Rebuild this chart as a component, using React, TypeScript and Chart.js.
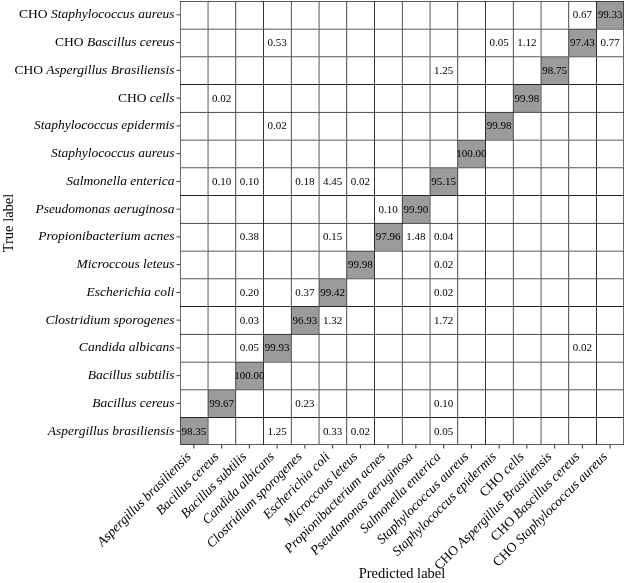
import React, { useEffect, useRef } from "react";
import { Chart, registerables } from "chart.js";

Chart.register(...registerables);

const classes = [
  "Aspergillus brasiliensis",
  "Bacillus cereus",
  "Bacillus subtilis",
  "Candida albicans",
  "Clostridium sporogenes",
  "Escherichia coli",
  "Microccous leteus",
  "Propionibacterium acnes",
  "Pseudomonas aeruginosa",
  "Salmonella enterica",
  "Staphylococcus aureus",
  "Staphylococcus epidermis",
  "CHO cells",
  "CHO Aspergillus Brasiliensis",
  "CHO Bascillus cereus",
  "CHO Staphylococcus aureus",
];

// rows = true label, columns = predicted label (percent)
const rowAspergillus = [98.35, 0, 0, 1.25, 0, 0.33, 0.02, 0, 0, 0.05, 0, 0, 0, 0, 0, 0];
const rowBacCereus = [0, 99.67, 0, 0, 0.23, 0, 0, 0, 0, 0.1, 0, 0, 0, 0, 0, 0];
const rowBacSubtilis = [0, 0, 100.0, 0, 0, 0, 0, 0, 0, 0, 0, 0, 0, 0, 0, 0];
const rowCandida = [0, 0, 0.05, 99.93, 0, 0, 0, 0, 0, 0, 0, 0, 0, 0, 0.02, 0];
const rowClostridium = [0, 0, 0.03, 0, 96.93, 1.32, 0, 0, 0, 1.72, 0, 0, 0, 0, 0, 0];
const rowEcoli = [0, 0, 0.2, 0, 0.37, 99.42, 0, 0, 0, 0.02, 0, 0, 0, 0, 0, 0];
const rowMicro = [0, 0, 0, 0, 0, 0, 99.98, 0, 0, 0.02, 0, 0, 0, 0, 0, 0];
const rowPropion = [0, 0, 0.38, 0, 0, 0.15, 0, 97.96, 1.48, 0.04, 0, 0, 0, 0, 0, 0];
const rowPseudo = [0, 0, 0, 0, 0, 0, 0, 0.1, 99.9, 0, 0, 0, 0, 0, 0, 0];
const rowSalmonella = [0, 0.1, 0.1, 0, 0.18, 4.45, 0.02, 0, 0, 95.15, 0, 0, 0, 0, 0, 0];
const rowStaphAureus = [0, 0, 0, 0, 0, 0, 0, 0, 0, 0, 100.0, 0, 0, 0, 0, 0];
const rowStaphEpi = [0, 0, 0, 0.02, 0, 0, 0, 0, 0, 0, 0, 99.98, 0, 0, 0, 0];
const rowChoCells = [0, 0.02, 0, 0, 0, 0, 0, 0, 0, 0, 0, 0, 99.98, 0, 0, 0];
const rowChoAsp = [0, 0, 0, 0, 0, 0, 0, 0, 0, 1.25, 0, 0, 0, 98.75, 0, 0];
const rowChoBac = [0, 0, 0, 0.53, 0, 0, 0, 0, 0, 0, 0, 0.05, 1.12, 0, 97.43, 0.77];
const rowChoStaph = [0, 0, 0, 0, 0, 0, 0, 0, 0, 0, 0, 0, 0, 0, 0.67, 99.33];

const confusion = [
  rowAspergillus,
  rowBacCereus,
  rowBacSubtilis,
  rowCandida,
  rowClostridium,
  rowEcoli,
  rowMicro,
  rowPropion,
  rowPseudo,
  rowSalmonella,
  rowStaphAureus,
  rowStaphEpi,
  rowChoCells,
  rowChoAsp,
  rowChoBac,
  rowChoStaph,
];

const SERIF = "'Liberation Serif', 'Times New Roman', serif";
const LABEL_SIZE = 13.5;
const VALUE_SIZE = 11;
const TITLE_SIZE = 14.5;

function splitLabel(s: string): [string, string] {
  if (s.startsWith("CHO ")) return ["CHO ", s.slice(4)];
  return ["", s];
}

function cellColor(v: number) {
  return v > 50 ? "#9b9b9b" : "#ffffff";
}

const labelPlugin = {
  id: "cmLabels",
  afterDraw(chart: any) {
    const ctx = chart.ctx as CanvasRenderingContext2D;
    const xs = chart.scales.x;
    const ys = chart.scales.y;
    const area = chart.chartArea;
    ctx.save();

    // cell values
    ctx.font = `${VALUE_SIZE}px ${SERIF}`;
    ctx.textAlign = "center";
    ctx.textBaseline = "middle";
    ctx.fillStyle = "#000";
    confusion.forEach((row, r) => {
      row.forEach((v, c) => {
        if (v > 0) {
          ctx.fillText(v.toFixed(2), xs.getPixelForValue(c), ys.getPixelForValue(r + 0.5) + 0.5);
        }
      });
    });

    const upFont = `${LABEL_SIZE}px ${SERIF}`;
    const itFont = `italic ${LABEL_SIZE}px ${SERIF}`;
    const tickLen = 3.5;
    const pad = 2;

    ctx.strokeStyle = "#000";
    ctx.lineWidth = 0.8;

    // y tick labels
    classes.forEach((name, i) => {
      const y = ys.getPixelForValue(i + 0.5);
      ctx.beginPath();
      ctx.moveTo(area.left - tickLen, y);
      ctx.lineTo(area.left, y);
      ctx.stroke();
      const [pre, it] = splitLabel(name);
      const rx = area.left - tickLen - pad;
      ctx.textBaseline = "middle";
      ctx.textAlign = "right";
      ctx.font = itFont;
      const wIt = ctx.measureText(it).width;
      ctx.fillText(it, rx, y);
      if (pre) {
        ctx.font = upFont;
        ctx.fillText(pre, rx - wIt, y);
      }
    });

    // x tick labels rotated 45deg, top-right of bbox at tick
    const c45 = Math.SQRT1_2;
    classes.forEach((name, j) => {
      const x = xs.getPixelForValue(j);
      ctx.beginPath();
      ctx.moveTo(x, area.bottom);
      ctx.lineTo(x, area.bottom + tickLen);
      ctx.stroke();
      const [pre, it] = splitLabel(name);
      ctx.font = upFont;
      const wPre = pre ? ctx.measureText(pre).width : 0;
      ctx.font = itFont;
      const mIt = ctx.measureText(it);
      const w = wPre + mIt.width;
      const a = LABEL_SIZE * 0.72;
      const d = LABEL_SIZE * 0.22;
      const yTop = area.bottom + tickLen + pad;
      ctx.save();
      ctx.translate(x - (w + d) * c45, yTop + (w + a) * c45);
      ctx.rotate(-Math.PI / 4);
      ctx.textAlign = "left";
      ctx.textBaseline = "alphabetic";
      if (pre) {
        ctx.font = upFont;
        ctx.fillText(pre, 0, 0);
      }
      ctx.font = itFont;
      ctx.fillText(it, wPre, 0);
      ctx.restore();
    });

    ctx.restore();
  },
};

export default function App() {
  const canvasRef = useRef<HTMLCanvasElement | null>(null);

  useEffect(() => {
    if (!canvasRef.current) return;
    const datasets = confusion.map((row, r) => ({
      label: classes[r],
      data: classes.map(() => [r, r + 1]),
      backgroundColor: (ctx: any) => cellColor(row[ctx.dataIndex] ?? 0),
      borderColor: "#222222",
      borderWidth: (ctx: any) => ({
        left: 1,
        top: 1,
        right: ctx.dataIndex === classes.length - 1 ? 1 : 0,
        bottom: r === 0 ? 1 : 0,
      }),
      borderSkipped: false,
      grouped: false,
      barPercentage: 1,
      categoryPercentage: 1,
    }));

    const chart = new Chart(canvasRef.current, {
      type: "bar",
      data: { labels: classes, datasets: datasets as any },
      plugins: [labelPlugin],
      options: {
        animation: false,
        responsive: true,
        maintainAspectRatio: false,
        events: [],
        layout: { padding: { top: 1, right: 2, left: 0, bottom: 0 } },
        plugins: { legend: { display: false }, tooltip: { enabled: false } },
        scales: {
          x: {
            type: "category",
            offset: true,
            grid: { display: false },
            border: { display: false },
            ticks: { display: false },
            afterFit: (s: any) => {
              s.height = 138;
            },
            title: {
              display: true,
              text: "Predicted label",
              color: "#000",
              font: { family: SERIF, size: TITLE_SIZE },
              padding: { top: 0, bottom: 0 },
            },
          },
          y: {
            type: "linear",
            min: 0,
            max: classes.length,
            grid: { display: false },
            border: { display: false },
            ticks: { display: false },
            afterFit: (s: any) => {
              s.width = 180;
            },
            title: {
              display: true,
              text: "True label",
              color: "#000",
              font: { family: SERIF, size: TITLE_SIZE },
              padding: { top: 0, bottom: 0 },
            },
          },
        },
      } as any,
    });
    return () => chart.destroy();
  }, []);

  return (
    <div style={{ position: "absolute", left: 0, top: 0, width: 626, height: 583, background: "#fff" }}>
      <canvas ref={canvasRef} />
    </div>
  );
}
